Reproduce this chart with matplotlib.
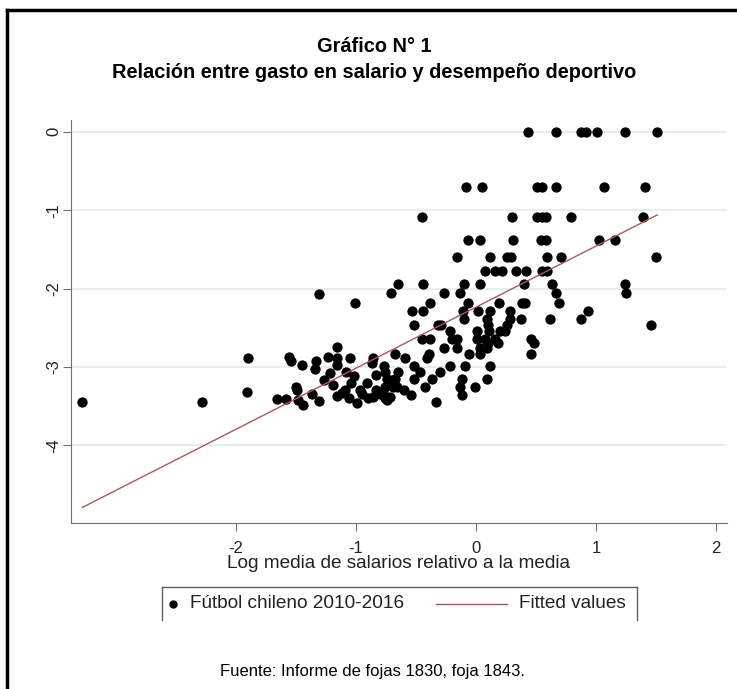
import numpy as np
import matplotlib.pyplot as plt
from matplotlib.lines import Line2D

plt.rcParams['font.family'] = ['Liberation Sans', 'DejaVu Sans']
plt.rcParams['axes.unicode_minus'] = False

# log salario relativo (x) vs desempeño (y)
salario_x = [
    0.43, 0.665, 0.875, 0.915, 1.01, 1.24, 1.51,
    -0.083, 0.05, 0.51, 0.55, 0.67, 1.07, 1.41,
    -0.45, 0.30, 0.51, 0.55, 0.58, 0.79, 1.39,
    -0.07, 0.03, 0.31, 0.54, 0.58, 1.025, 1.16,
    -0.16, 0.12, 0.26, 0.29, 0.59, 0.71, 1.50,
    0.075, 0.16, 0.22, 0.33, 0.42, 0.55, 0.59,
    -0.65, -0.44, -0.10, 0.03, 0.40, 0.63, 1.24,
    -0.71, -0.27, -0.13, 0.67, 1.25,
    -0.38, -0.07, 0.19, 0.38, 0.41, 0.69,
    -0.53, -0.44, -0.11, 0.02, 0.12, 0.28, 0.93,
    0.875, 0.62, -0.10, 0.09, 0.28, 0.375,
    -0.52, -0.32, -0.29, 0.10, 0.26, 1.46,
    -0.22, 0.005, 0.11, 0.20, 0.24,
    -0.45, -0.38, -0.20, -0.16, 0.005, 0.075, 0.16, 0.46,
    0.48, 0.18, 0.10,
    -0.27, -0.16, 0.03, 0.09,
    -0.675, -0.39, -0.06, 0.03, 0.46,
    -0.59, -0.41,
    -0.77, -0.52, -0.22, -0.09, 0.12,
    -0.65, -0.47, -0.30,
    -0.74, -0.675, -0.52, -0.37, -0.12, 0.09,
    -0.76, -0.69, -0.01, -0.425, -0.13,
    -0.77, -0.54, -0.12,
    -0.33,
    -3.28, -2.28, -1.90, -1.905, -1.31, -1.01,
    -1.56, -1.54, -1.45, -1.33, -1.34, -1.16, -1.23, -1.16, -1.05,
    -1.16, -1.22, -1.27, -1.08, -1.02, -1.50, -1.49, -1.66, -1.58,
    -1.48, -1.44, -1.37, -1.31, -1.19, -1.16, -1.09, -1.04, -1.06,
    -0.99, -0.97, -0.91, -0.87, -0.86, -0.83,
    -0.76, -0.70, -0.83, -0.76, -0.66, -0.74, -0.86,
    -0.95, -0.90, -0.80, -1.12, -0.72, -0.60,
]
desempeno_y = [
    0.0, 0.0, 0.0, 0.0, 0.0, 0.0, 0.0,
    -0.70, -0.70, -0.70, -0.70, -0.70, -0.70, -0.70,
    -1.09, -1.09, -1.09, -1.09, -1.09, -1.09, -1.09,
    -1.38, -1.38, -1.38, -1.38, -1.38, -1.38, -1.38,
    -1.60, -1.60, -1.60, -1.60, -1.60, -1.60, -1.60,
    -1.78, -1.78, -1.78, -1.78, -1.78, -1.78, -1.78,
    -1.94, -1.94, -1.94, -1.94, -1.94, -1.94, -1.94,
    -2.06, -2.06, -2.06, -2.06, -2.06,
    -2.19, -2.19, -2.19, -2.19, -2.19, -2.19,
    -2.29, -2.29, -2.29, -2.29, -2.29, -2.29, -2.29,
    -2.39, -2.39, -2.39, -2.39, -2.39, -2.39,
    -2.47, -2.47, -2.47, -2.47, -2.47, -2.47,
    -2.54, -2.54, -2.54, -2.54, -2.54,
    -2.64, -2.64, -2.64, -2.64, -2.64, -2.64, -2.64, -2.64,
    -2.70, -2.70, -2.70,
    -2.76, -2.76, -2.76, -2.76,
    -2.83, -2.83, -2.83, -2.83, -2.83,
    -2.89, -2.89,
    -2.99, -2.99, -2.99, -2.99, -2.99,
    -3.06, -3.06, -3.06,
    -3.15, -3.15, -3.15, -3.15, -3.15, -3.15,
    -3.25, -3.25, -3.25, -3.25, -3.25,
    -3.36, -3.36, -3.36,
    -3.45,
    -3.45, -3.45, -2.88, -3.32, -2.07, -2.19,
    -2.87, -2.93, -2.98, -2.93, -3.03, -2.74, -2.87, -2.88, -2.88,
    -2.98, -3.08, -3.16, -3.06, -3.12, -3.25, -3.30, -3.41, -3.41,
    -3.42, -3.49, -3.34, -3.44, -3.23, -3.37, -3.30, -3.21, -3.40,
    -3.46, -3.30, -3.21, -2.95, -3.38, -3.10,
    -3.06, -3.17, -3.30, -3.40, -3.25, -3.42, -2.89,
    -3.35, -3.40, -3.35, -3.33, -3.38, -3.30,
]

x = np.array(salario_x)
y = np.array(desempeno_y)
b, a = np.polyfit(x, y, 1)
xs = np.array([x.min(), x.max()])

fig = plt.figure(figsize=(7.37, 6.89), dpi=100)
ax = fig.add_axes([0.0963, 0.2409, 0.89, 0.585])

fit_color = '#a85a5a'
ax.scatter(x, y, s=55, color='black', zorder=3, linewidths=0)
ax.plot(xs, a + b * xs, color=fit_color, lw=1, zorder=4)

ax.set_xlim(-3.375, 2.09)
ax.set_ylim(-4.99, 0.15)
ax.set_xticks([-2, -1, 0, 1, 2])
ax.set_yticks([0, -1, -2, -3, -4])
ax.set_yticklabels(['0', '-1', '-2', '-3', '-4'], rotation=90, va='center')
ax.grid(axis='y', color='#e6eef0', lw=1.5)
ax.set_axisbelow(True)
for s in ['top', 'right']:
    ax.spines[s].set_visible(False)
for s in ['left', 'bottom']:
    ax.spines[s].set_color('#707070')
ax.tick_params(colors='#707070', labelcolor='#222222', labelsize=12, length=6)
ax.tick_params(axis='x', pad=7)
ax.tick_params(axis='y', pad=1)
ax.set_xlabel('Log media de salarios relativo a la media', fontsize=13.7, labelpad=-1, color='#222222')

fig.text(0.508, 0.933, 'Gráfico N° 1', ha='center', va='center', fontsize=14.4, fontweight='bold')
fig.text(0.508, 0.895, 'Relación entre gasto en salario y desempeño deportivo',
         ha='center', va='center', fontsize=14.4, fontweight='bold')

# leyenda dibujada a mano (caja abierta abajo como en el original)
ly = 1 - 604 / 689
fig.add_artist(Line2D([173 / 737], [ly], marker='o', color='black', markersize=5, ls='none'))
fig.text(190 / 737, ly, 'Fútbol chileno 2010-2016', ha='left', va='center', fontsize=13.7, color='#222222')
fig.add_artist(Line2D([436 / 737, 507 / 737], [ly, ly], color=fit_color, lw=1))
fig.text(519 / 737, ly, 'Fitted values', ha='left', va='center', fontsize=13.7, color='#222222')
bl, br, bt, bb = 162 / 737, 637 / 737, 1 - 587 / 689, 1 - 620 / 689
for xx in [bl, br]:
    fig.add_artist(Line2D([xx, xx], [bb, bt], color='#606060', lw=1))
fig.add_artist(Line2D([bl, br], [bt, bt], color='#606060', lw=1))

fig.text(0.505, 0.025, 'Fuente: Informe de fojas 1830, foja 1843.', ha='center', va='center', fontsize=12)

# marco negro
fig.add_artist(Line2D([0.009, 0.009], [0, 0.985], color='black', lw=2.5))
fig.add_artist(Line2D([0.009, 1.0], [0.985, 0.985], color='black', lw=2.5))

fig.savefig('out.png', dpi=100)
